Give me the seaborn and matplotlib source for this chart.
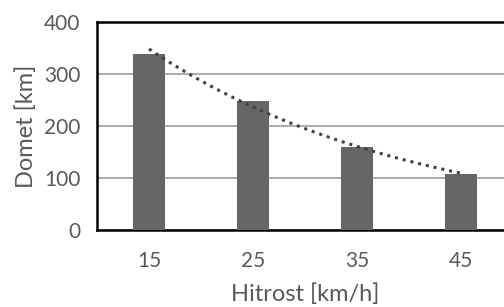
import numpy as np
import pandas as pd
import matplotlib
matplotlib.use("Agg")
import matplotlib.pyplot as plt
import seaborn as sns

speeds = ["15", "25", "35", "45"]
ranges_km = [338, 248, 160, 108]

df = pd.DataFrame({"speed": speeds, "range": ranges_km})

# exponential trendline like Excel (x = 1..n)
xs = np.arange(1, len(ranges_km) + 1)
k, c = np.polyfit(xs, np.log(ranges_km), 1)
xt = np.linspace(1, len(ranges_km), 100)
yt = np.exp(c + k * xt)

sns.set_style("white")
plt.rcParams["font.family"] = ["Lato", "DejaVu Sans"]
txt = "#595959"

fig = plt.figure(figsize=(5.04, 3.07), dpi=100)
ax = fig.add_axes([0.1925, 0.2508, 0.825, 0.6775])

sns.barplot(data=df, x="speed", y="range", color="#666666", width=0.31,
            saturation=1, linewidth=0, ax=ax, zorder=3)
ax.plot(xt - 1, yt, linestyle=(0, (1, 1.6)), color="#404040", linewidth=2.2,
        zorder=4)

ax.set_ylim(0, 400)
ax.set_xlim(-0.5, 3.5)
ax.set_yticks([0, 100, 200, 300, 400])
ax.yaxis.grid(True, color="#a6a6a6", linewidth=1.3, zorder=0)
ax.set_axisbelow(True)
for s in ax.spines.values():
    s.set_color("black")
    s.set_linewidth(1.8)
    s.set_visible(True)

ax.tick_params(axis="both", length=0, labelsize=15, colors=txt)
ax.tick_params(axis="y", pad=12)
ax.tick_params(axis="x", pad=15)
ax.set_xlabel("Hitrost [km/h]", fontsize=17, color=txt, labelpad=9)
ax.set_ylabel("Domet [km]", fontsize=17, color=txt, labelpad=5)

fig.savefig("out.png", dpi=100)
